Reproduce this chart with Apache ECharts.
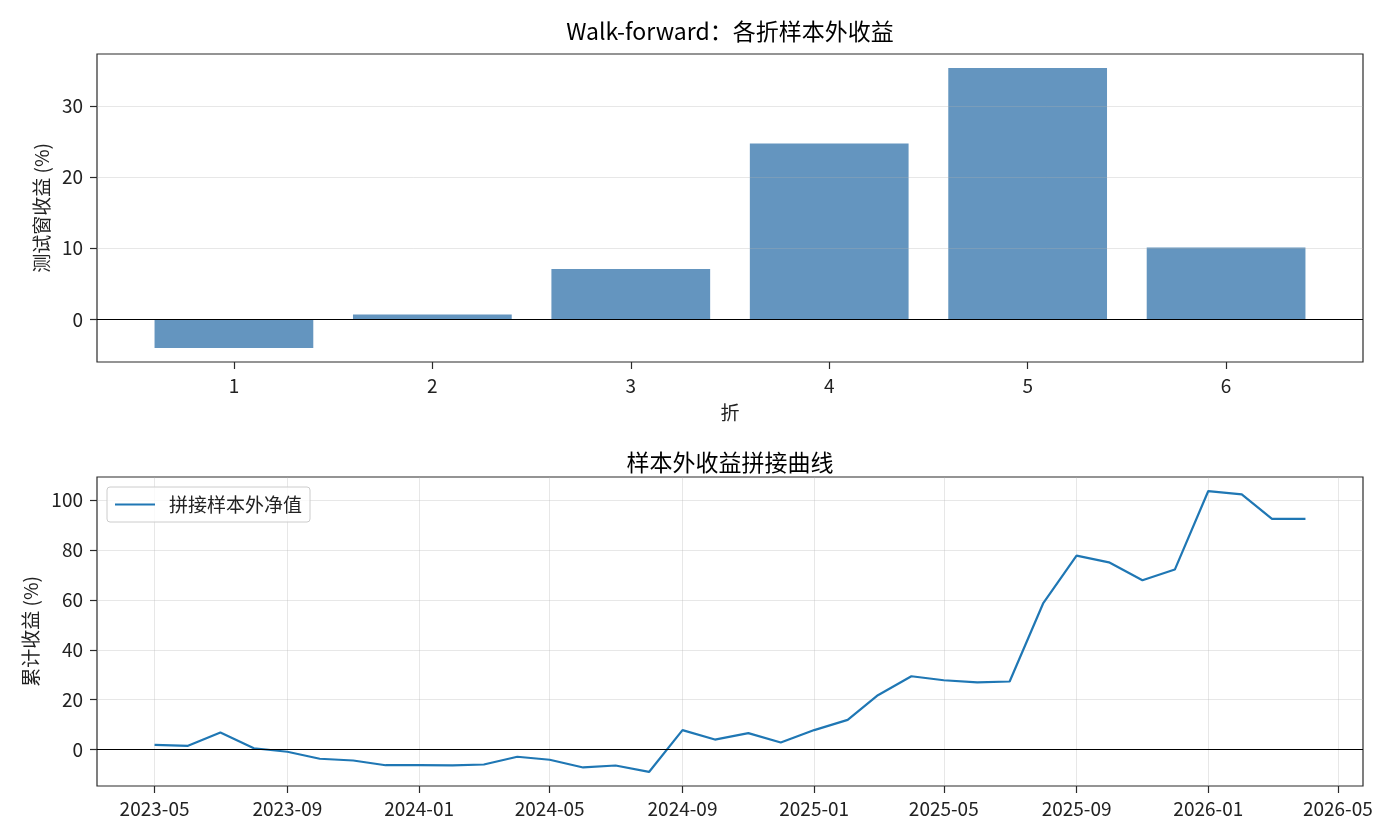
<!DOCTYPE html>
<html>
<head>
<meta charset="utf-8">
<title>Walk-forward 样本外收益</title>
<script src="https://cdn.jsdelivr.net/npm/echarts@6/dist/echarts.min.js"></script>
<style>
html, body { margin: 0; padding: 0; background: #fff; }
#main { width: 1400px; height: 840px; }
</style>
</head>
<body>
<div id="main"></div>
<script>
// 各折测试窗收益 (%)
var folds = [1, 2, 3, 4, 5, 6];
var foldReturns = [-4.0, 0.7, 7.1, 24.7, 35.3, 10.1];
var foldTicks = [0, 10, 20, 30];

// 拼接样本外净值，月度累计收益 (%)
var months = [
	'2023-05-01', '2023-06-01', '2023-07-01', '2023-08-01', '2023-09-01', '2023-10-01',
	'2023-11-01', '2023-12-01', '2024-01-01', '2024-02-01', '2024-03-01', '2024-04-01',
	'2024-05-01', '2024-06-01', '2024-07-01', '2024-08-01', '2024-09-01', '2024-10-01',
	'2024-11-01', '2024-12-01', '2025-01-01', '2025-02-01', '2025-03-01', '2025-04-01',
	'2025-05-01', '2025-06-01', '2025-07-01', '2025-08-01', '2025-09-01', '2025-10-01',
	'2025-11-01', '2025-12-01', '2026-01-01', '2026-02-01', '2026-03-01', '2026-04-01'
];
var cumReturns = [
	1.9, 1.5, 6.8, 0.5, -0.9, -3.7,
	-4.4, -6.3, -6.3, -6.4, -6.0, -2.9,
	-4.1, -7.2, -6.4, -9.0, 7.8, 4.0,
	6.6, 2.8, 7.8, 11.9, 21.8, 29.4,
	27.8, 26.9, 27.3, 58.6, 77.8, 75.1,
	67.9, 72.2, 103.7, 102.4, 92.5, 92.5
];
var cumTicks = [0, 20, 40, 60, 80, 100];
var dateTicks = [
	'2023-05-01', '2023-09-01', '2024-01-01', '2024-05-01', '2024-09-01',
	'2025-01-01', '2025-05-01', '2025-09-01', '2026-01-01', '2026-05-01'
];

var font = 'Noto Sans CJK SC';
var axisColor = '#2a2a2a';
var textColor = '#222';
var gridColor = 'rgba(176,176,176,0.3)';
var gridLeft = 97, gridRight = 37;

// 日期按天数放在数值轴上
function ts(s) {
	var p = s.split('-');
	return Date.UTC(+p[0], +p[1] - 1, +p[2]) / 86400000;
}
// matplotlib 默认 5% 边距
function pad(lo, hi) {
	var m = (hi - lo) * 0.05;
	return [lo - m, hi + m];
}
function two(n) { return n < 10 ? '0' + n : '' + n; }

var xTop = pad(folds[0] - 0.4, folds[folds.length - 1] + 0.4);
var yTop = pad(Math.min(0, Math.min.apply(null, foldReturns)), Math.max(0, Math.max.apply(null, foldReturns)));
var barW = 0.8 / (xTop[1] - xTop[0]) * (1400 - gridLeft - gridRight);

var t = months.map(ts);
var xBot = pad(t[0], t[t.length - 1]);
var yBot = pad(Math.min.apply(null, cumReturns), Math.max.apply(null, cumReturns));

var tickStyle = { length: 7, lineStyle: { color: axisColor, width: 1.2 } };
var labelStyle = { fontSize: 19, color: textColor, fontFamily: font, margin: 14 };
var nameStyle = { fontSize: 19, color: textColor, fontFamily: font };
var noLine = { show: false, onZero: false };

function ext(a, b) { return Object.assign({}, a, b); }

var chart = echarts.init(document.getElementById('main'));
chart.setOption({
	animation: false,
	textStyle: { fontFamily: font },
	title: [{
		text: 'Walk-forward：各折样本外收益',
		left: 725, top: 15, textAlign: 'center',
		textStyle: { fontSize: 23, fontWeight: 'normal', color: '#000', fontFamily: font }
	}, {
		text: '样本外收益拼接曲线',
		left: 725, top: 446, textAlign: 'center',
		textStyle: { fontSize: 23, fontWeight: 'normal', color: '#000', fontFamily: font }
	}],
	legend: {
		data: [{ name: '拼接样本外净值', icon: 'rect' }],
		left: 107, top: 487,
		padding: [8, 8, 8, 8],
		itemWidth: 40, itemHeight: 2.2,
		selectedMode: false,
		backgroundColor: 'rgba(255,255,255,0.8)',
		borderColor: '#cccccc', borderWidth: 1, borderRadius: 3,
		textStyle: { fontSize: 19, color: textColor, fontFamily: font, padding: [0, 0, 0, 9] }
	},
	grid: [{
		left: gridLeft, right: gridRight, top: 54, height: 308,
		show: true, borderColor: axisColor, borderWidth: 1.2, backgroundColor: 'transparent'
	}, {
		left: gridLeft, right: gridRight, top: 477, height: 309,
		show: true, borderColor: axisColor, borderWidth: 1.2, backgroundColor: 'transparent'
	}],
	xAxis: [{
		gridIndex: 0, type: 'value', min: xTop[0], max: xTop[1],
		axisLine: noLine,
		axisTick: ext(tickStyle, { customValues: folds }),
		axisLabel: ext(labelStyle, { customValues: folds }),
		splitLine: { show: false },
		name: '折', nameLocation: 'middle', nameGap: 41, nameTextStyle: nameStyle
	}, {
		gridIndex: 1, type: 'value', min: xBot[0], max: xBot[1],
		axisLine: noLine,
		axisTick: ext(tickStyle, { customValues: dateTicks.map(ts) }),
		axisLabel: ext(labelStyle, {
			customValues: dateTicks.map(ts),
			margin: 13,
			formatter: function(v) {
				var d = new Date(Math.round(v) * 86400000);
				return d.getUTCFullYear() + '-' + two(d.getUTCMonth() + 1);
			}
		}),
		splitLine: { show: true, lineStyle: { color: gridColor, width: 1 } }
	}],
	yAxis: [{
		gridIndex: 0, type: 'value', min: yTop[0], max: yTop[1],
		axisLine: noLine,
		axisTick: ext(tickStyle, { customValues: foldTicks }),
		axisLabel: ext(labelStyle, { customValues: foldTicks }),
		splitLine: { show: false },
		name: '测试窗收益 (%)', nameLocation: 'middle', nameGap: 44, nameTextStyle: nameStyle
	}, {
		gridIndex: 1, type: 'value', min: yBot[0], max: yBot[1],
		axisLine: noLine,
		axisTick: ext(tickStyle, { customValues: cumTicks }),
		axisLabel: ext(labelStyle, { customValues: cumTicks }),
		splitLine: { show: true, lineStyle: { color: gridColor, width: 1 } },
		name: '累计收益 (%)', nameLocation: 'middle', nameGap: 55, nameTextStyle: nameStyle
	}],
	series: [{
		type: 'bar',
		xAxisIndex: 0, yAxisIndex: 0,
		data: folds.map(function(f, i) { return [f, foldReturns[i]]; }),
		barWidth: barW,
		itemStyle: { color: '#6495bf' },
		silent: true,
		// 网格线画在柱子上面，和原图一样
		markLine: {
			silent: true, symbol: ['none', 'none'], label: { show: false },
			data: foldTicks.map(function(v) {
				return { yAxis: v, lineStyle: { color: gridColor, width: 1, type: 'solid' } };
			}).concat([{ yAxis: 0, lineStyle: { color: '#000', width: 1.1, type: 'solid' } }])
		}
	}, {
		type: 'line',
		name: '拼接样本外净值',
		xAxisIndex: 1, yAxisIndex: 1,
		data: t.map(function(x, i) { return [x, cumReturns[i]]; }),
		symbol: 'none',
		lineStyle: { color: '#1f77b4', width: 2.2 },
		itemStyle: { color: '#1f77b4' },
		silent: true,
		markLine: {
			silent: true, symbol: ['none', 'none'], label: { show: false },
			data: [{ yAxis: 0, lineStyle: { color: '#000', width: 1.1, type: 'solid' } }]
		}
	}]
});
window.onresize = function() {
	chart.resize();
};
</script>
</body>
</html>
